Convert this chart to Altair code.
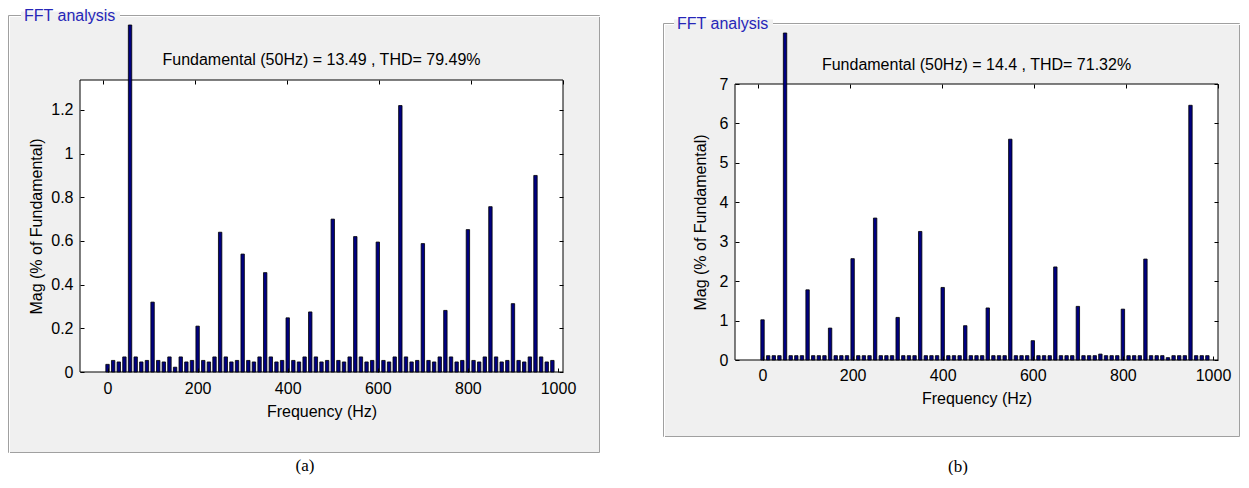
import altair as alt
import pandas as pd

# ---------------- data ----------------
freq = [0, 12.5, 25, 37.5, 50, 62.5, 75, 87.5, 100, 112.5, 125, 137.5, 150, 162.5, 175, 187.5,
        200, 212.5, 225, 237.5, 250, 262.5, 275, 287.5, 300, 312.5, 325, 337.5, 350, 362.5, 375, 387.5,
        400, 412.5, 425, 437.5, 450, 462.5, 475, 487.5, 500, 512.5, 525, 537.5, 550, 562.5, 575, 587.5,
        600, 612.5, 625, 637.5, 650, 662.5, 675, 687.5, 700, 712.5, 725, 737.5, 750, 762.5, 775, 787.5,
        800, 812.5, 825, 837.5, 850, 862.5, 875, 887.5, 900, 912.5, 925, 937.5, 950, 962.5, 975, 987.5]

mag_a = [0.035, 0.053, 0.046, 0.069, 100, 0.069, 0.046, 0.053,
         0.32, 0.053, 0.046, 0.069, 0.022, 0.069, 0.046, 0.053,
         0.21, 0.053, 0.046, 0.069, 0.64, 0.069, 0.046, 0.053,
         0.54, 0.053, 0.046, 0.069, 0.455, 0.069, 0.046, 0.053,
         0.248, 0.053, 0.046, 0.069, 0.275, 0.069, 0.046, 0.053,
         0.70, 0.053, 0.046, 0.069, 0.62, 0.069, 0.046, 0.053,
         0.595, 0.053, 0.046, 0.069, 1.22, 0.069, 0.046, 0.053,
         0.588, 0.053, 0.046, 0.069, 0.282, 0.069, 0.046, 0.053,
         0.652, 0.053, 0.046, 0.069, 0.757, 0.069, 0.046, 0.053,
         0.313, 0.053, 0.046, 0.069, 0.90, 0.069, 0.046, 0.053]

mag_b = [1.02, 0.11, 0.11, 0.11, 100, 0.11, 0.11, 0.11,
         1.78, 0.11, 0.11, 0.11, 0.81, 0.11, 0.11, 0.11,
         2.57, 0.11, 0.11, 0.11, 3.60, 0.11, 0.11, 0.11,
         1.08, 0.11, 0.11, 0.11, 3.26, 0.11, 0.11, 0.11,
         1.84, 0.11, 0.11, 0.11, 0.87, 0.11, 0.11, 0.11,
         1.32, 0.11, 0.11, 0.11, 5.60, 0.11, 0.11, 0.11,
         0.49, 0.11, 0.11, 0.11, 2.36, 0.11, 0.11, 0.11,
         1.36, 0.11, 0.11, 0.11, 0.15, 0.11, 0.11, 0.11,
         1.29, 0.11, 0.11, 0.11, 2.56, 0.11, 0.11, 0.11,
         0.06, 0.11, 0.11, 0.11, 6.46, 0.11, 0.11, 0.11]

fund_freq = 50
x_ticks = [0, 200, 400, 600, 800, 1000]
y_ticks_a = [0, 0.2, 0.4, 0.6, 0.8, 1, 1.2]
y_ticks_b = [0, 1, 2, 3, 4, 5, 6, 7]
title_a = "Fundamental (50Hz) = 13.49 , THD= 79.49%"
title_b = "Fundamental (50Hz) = 14.4 , THD= 71.32%"
box_label = "FFT analysis"
x_title = "Frequency (Hz)"
y_title = "Mag (% of Fundamental)"

FONT = "Liberation Sans"
BAR_FILL = "#000080"
W = 483


def panel(mags, yticks, ymax, H, top, fund_top, title, title_y, caption, cap_xy,
          frame, fft_xy, ytp, lp, bounds=False):
    df = pd.DataFrame({"freq": freq, "mag": mags})
    one = pd.DataFrame({"k": [0]})
    xsc = alt.Scale(domain=[-50, 1000], range=[0, W], nice=False, zero=False)
    ysc = alt.Scale(domain=[0, ymax], range=[H, top], nice=False, zero=False)
    fsc = alt.Scale(domain=[0, 100], range=[H, fund_top], nice=False)
    fx0, fx1, fy0, fy1 = frame

    layers = []
    if bounds:
        layers.append(alt.Chart(one).mark_rect(opacity=0).encode(
            x=alt.value(-72), x2=alt.value(-71), y=alt.value(-72), y2=alt.value(-71)))
    layers.append(alt.Chart(one).mark_rect(fill="#f0f0f0", stroke="#a0a0a0", strokeWidth=1).encode(
        x=alt.value(fx0), x2=alt.value(fx1), y=alt.value(fy0), y2=alt.value(fy1)))
    layers.append(alt.Chart(one).mark_rect(fillOpacity=0, stroke="#ffffff", strokeWidth=1).encode(
        x=alt.value(fx0 + 1), x2=alt.value(fx1 + 1), y=alt.value(fy0 + 1), y2=alt.value(fy1 + 1)))
    layers.append(alt.Chart(one).mark_rect(fill="#f0f0f0").encode(
        x=alt.value(fft_xy[0] - 3), x2=alt.value(fft_xy[0] + 96),
        y=alt.value(fy0 - 4), y2=alt.value(fy0 + 4)))
    layers.append(alt.Chart(one).mark_text(
        text=box_label, align="left", baseline="middle", font=FONT, fontSize=16, color="#2626b8"
    ).encode(x=alt.value(fft_xy[0]), y=alt.value(fft_xy[1])))
    layers.append(alt.Chart(one).mark_rect(fill="#ffffff", stroke="#000000", strokeWidth=1).encode(
        x=alt.value(0), x2=alt.value(W), y=alt.value(top), y2=alt.value(H)))
    layers.append(alt.Chart(one).mark_text(
        text=title, align="center", baseline="middle", font=FONT, fontSize=16, color="#000000"
    ).encode(x=alt.value(W / 2), y=alt.value(title_y)))
    layers.append(alt.Chart(one).mark_text(
        text=caption, align="center", baseline="middle", font="Liberation Serif", fontSize=17,
        color="#000000"
    ).encode(x=alt.value(cap_xy[0]), y=alt.value(cap_xy[1])))

    bottom_axis = alt.Axis(orient="bottom", values=x_ticks, format="d", domain=False, tickSize=4,
                           offset=-4, labelPadding=lp, titlePadding=7, grid=False, zindex=1)
    left_axis = alt.Axis(orient="left", values=yticks, format="~g", domain=False, tickSize=4,
                         offset=-4, labelPadding=7, titlePadding=ytp, grid=False, zindex=1)
    layers.append(alt.Chart(df).transform_filter(f"datum.freq != {fund_freq}").mark_bar(
        size=3.4, fill=BAR_FILL, stroke="#000000", strokeWidth=0.8
    ).encode(
        x=alt.X("freq:Q", scale=xsc, axis=bottom_axis, title=x_title),
        y=alt.Y("mag:Q", scale=ysc, axis=left_axis, title=y_title),
    ))
    layers.append(alt.Chart(df).transform_filter(f"datum.freq == {fund_freq}").mark_bar(
        size=3.4, fill=BAR_FILL, stroke="#000000", strokeWidth=0.8
    ).encode(
        x=alt.X("freq:Q", scale=xsc, axis=None),
        y=alt.Y("mag:Q", scale=fsc, axis=None),
    ))
    top_axis = alt.Axis(orient="top", values=x_ticks, labels=False, domain=False, tickSize=4,
                        offset=-(4 + top), grid=False, zindex=1)
    right_axis = alt.Axis(orient="right", values=yticks, labels=False, domain=False, tickSize=4,
                          offset=-4, grid=False, zindex=1)
    layers.append(alt.Chart(df).transform_filter(f"datum.freq != {fund_freq}").mark_point(
        opacity=0
    ).encode(
        x=alt.X("freq:Q", scale=xsc, axis=top_axis, title=""),
        y=alt.Y("mag:Q", scale=ysc, axis=right_axis, title=""),
    ))

    return alt.layer(*layers).resolve_scale(x="independent", y="independent").resolve_axis(
        x="independent", y="independent").properties(width=W, height=H)


pa = panel(mag_a, y_ticks_a, 1.337, 292, 0, -55, title_a, -20, "(a)", (225, 386),
           (-71.5, 519.5, -64.5, 372.5), (-56, -64), 6, 8, bounds=True)
pb = panel(mag_b, y_ticks_b, 7, 280, 4, -47, title_b, -15, "(b)", (223, 387),
           (-71.5, 504.5, -56.5, 356.5), (-58, -56), 11, 7)

chart = alt.hconcat(pa, pb, spacing=172, bounds="flush").properties(
    padding=0, background="#ffffff"
).configure_view(strokeWidth=0).configure_axis(
    labelFont=FONT, labelFontSize=16, labelColor="#000000",
    titleFont=FONT, titleFontSize=16, titleFontWeight="normal", titleColor="#000000",
    tickColor="#000000", tickWidth=1
)

chart.save("out.html", embed_options={"renderer": "svg", "actions": False})
